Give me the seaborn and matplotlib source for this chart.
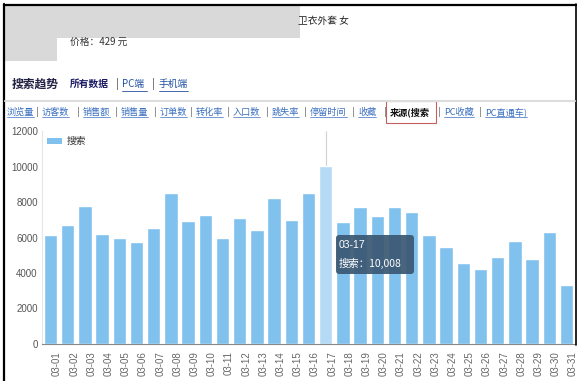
import numpy as np
import pandas as pd
import matplotlib
matplotlib.use("Agg")
import matplotlib.pyplot as plt
import seaborn as sns
from matplotlib.patches import Rectangle, FancyBboxPatch

# ---- data ----
dates = ["03-%02d" % d for d in range(1, 32)]
search = [6150, 6680, 7780, 6200, 6000, 5720, 6510, 8510, 6910, 7250,
          5990, 7100, 6440, 8230, 7000, 8510, 10008, 6870, 7740, 7210,
          7740, 7440, 6160, 5460, 4590, 4200, 4920, 5820, 4800, 6290, 3320]
series_name = "搜索"
highlight = "03-17"
y_ticks = [0, 2000, 4000, 6000, 8000, 10000, 12000]
tabs = ["浏览量", "访客数", "销售额", "销售量", "订单数", "转化率", "入口数",
        "跳失率", "停留时间", "收藏", "来源(搜索", "PC收藏", "PC直通车)"]
tab_x = [7, 42, 83, 121, 160, 196, 233, 272, 310, 358, 390, 444, 485]

df = pd.DataFrame({"date": dates, "value": search})

sns.set_style("white")
plt.rcParams["font.family"] = ["Noto Sans CJK SC", "DejaVu Sans"]

W, H = 582, 381
fig = plt.figure(figsize=(W / 100, H / 100), dpi=100)
fig.patch.set_facecolor("white")

# main chart axes (pixel geometry)
L, R, T, B = 41.9, 575.1, 131.0, 344.0
ax = fig.add_axes([L / W, (H - B) / H, (R - L) / W, (B - T) / H])

bar_c = "#80c1ee"
hi_c = "#b4daf5"
pal = {d: (hi_c if d == highlight else bar_c) for d in dates}
sns.barplot(data=df, x="date", y="value", hue="date", palette=pal,
            legend=False, width=0.77, saturation=1, ax=ax, zorder=2)

ax.set_xlim(-0.5, len(dates) - 0.5)
ax.set_ylim(0, 12000)
ax.set_yticks(y_ticks)
ax.set_yticklabels([str(v) for v in y_ticks], fontsize=7, color="#555555",
                   family=["Liberation Sans", "DejaVu Sans"])
ax.tick_params(axis="y", length=0, pad=3)
xpos = np.arange(len(dates))
ax.set_xticks(xpos + 0.38)
ax.set_xticklabels(dates, rotation=90, fontsize=7, color="#666666",
                   family=["Liberation Sans", "DejaVu Sans"], va="top")
ax.tick_params(axis="x", length=0, pad=5)
ax.set_xticks(np.arange(-0.5, len(dates), 1.0), minor=True)
ax.tick_params(axis="x", which="minor", length=3, color="#777777", width=0.8)
ax.set_xlabel("")
ax.set_ylabel("")
for s in ["top", "right"]:
    ax.spines[s].set_visible(False)
ax.spines["left"].set_color("#e6e6e6")
ax.spines["left"].set_linewidth(0.8)
ax.spines["bottom"].set_color("#888888")
ax.spines["bottom"].set_linewidth(0.8)

# hover line at highlighted category
hi_i = dates.index(highlight)
ax.vlines(hi_i, search[hi_i], 12000, color="#d0d0d0", lw=0.8, zorder=1)

# legend
ax.add_patch(Rectangle((0.009, 0.939), 0.028, 0.028, transform=ax.transAxes,
                       facecolor=bar_c, edgecolor="none", clip_on=False))
ax.text(0.047, 0.953, series_name, transform=ax.transAxes, fontsize=7,
        color="#333333", va="center")

# ---- page overlay (pixel coordinates) ----
pg = fig.add_axes([0, 0, 1, 1], zorder=5)
pg.set_xlim(0, W)
pg.set_ylim(H, 0)
pg.axis("off")
pg.patch.set_alpha(0)

# border
pg.plot([3.5, 3.5], [4, 381], color="black", lw=1.6)
pg.plot([3.5, 575.5], [4.5, 4.5], color="black", lw=1.6)
pg.plot([575.5, 575.5], [4, 345], color="black", lw=1.2)

# redaction block
pg.add_patch(Rectangle((5, 5), 295, 33, facecolor="#d9d9d9", edgecolor="none"))
pg.add_patch(Rectangle((5, 38), 52, 23, facecolor="#d9d9d9", edgecolor="none"))
pg.text(298, 21, "卫衣外套 女", fontsize=7, color="#222222", va="center")
pg.text(70, 42, "价格：429 元", fontsize=7, color="#333333", va="center")

pg.text(12, 84, "搜索趋势", fontsize=8.5, color="#222244", va="center",
        fontweight="bold")
pg.text(70, 84, "所有数据", fontsize=7, color="#1a1a66", va="center",
        fontweight="bold")
pg.text(117, 84, "|", fontsize=7, color="#333333", va="center", ha="center")
pg.text(122, 84, "PC端", fontsize=7, color="#2050a0", va="center")
pg.text(153, 84, "|", fontsize=7, color="#333333", va="center", ha="center")
pg.text(159, 84, "手机端", fontsize=7, color="#2050a0", va="center")
pg.plot([122, 147], [90.5, 90.5], color="#2050a0", lw=0.6)
pg.plot([159, 188], [90.5, 90.5], color="#2050a0", lw=0.6)
pg.plot([5, 575], [101, 101], color="#dddddd", lw=1.5)

# tab row
for i, (t, x) in enumerate(zip(tabs, tab_x)):
    active = t.startswith("来源")
    col = "#111111" if active else "#3a6fc0"
    pg.text(x, 112, t, fontsize=6.6, color=col, va="center",
            fontweight="bold" if active else "normal")
    if i < len(tabs) - 1:
        pg.text(tab_x[i + 1] - 4.5, 112, "|", fontsize=6.6, color="#555555",
                va="center", ha="center")
fig.canvas.draw()
rend = fig.canvas.get_renderer()
for t in pg.texts:
    if t.get_text() in tabs and not t.get_text().startswith("来源"):
        bb = t.get_window_extent(rend)
        y = H - bb.y0 + 0.5
        pg.plot([bb.x0, bb.x1], [y, y], color="#3a6fc0", lw=0.5)
pg.add_patch(Rectangle((386, 101), 50, 22, facecolor="none",
                       edgecolor="#c46060", lw=0.8))

# tooltip
pg.add_patch(FancyBboxPatch((336, 235), 78, 39,
                            boxstyle="round,pad=0,rounding_size=3",
                            facecolor="#3b5873", edgecolor="none", alpha=0.93))
pg.text(339, 245, highlight, fontsize=7.5, color="white", va="center",
        family=["Liberation Sans", "DejaVu Sans"])
pg.text(339, 263, "%s：%s" % (series_name, format(search[hi_i], ",")),
        fontsize=7.5, color="white", va="center")

fig.savefig("out.png", dpi=100, facecolor="white")
